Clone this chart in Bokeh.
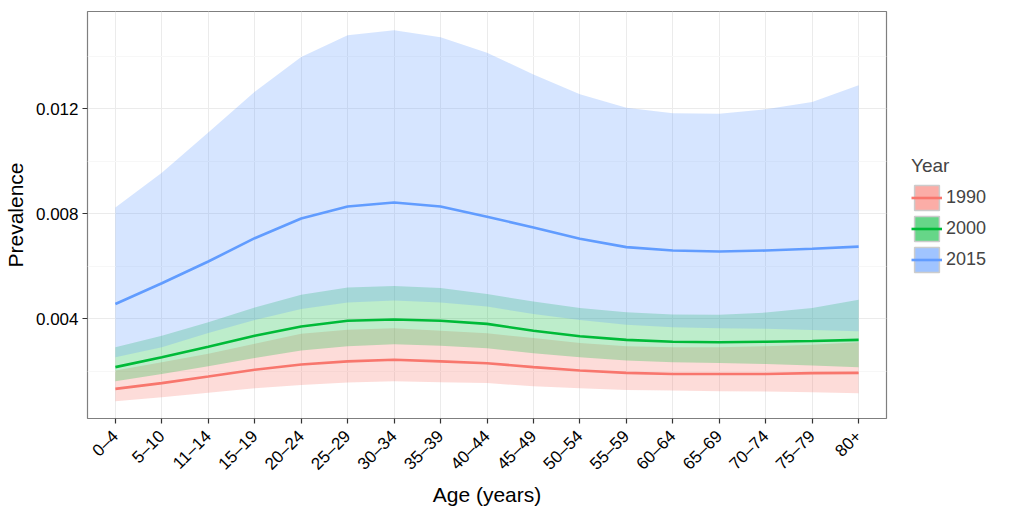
from bokeh.plotting import figure
from bokeh.models import (FactorRange, Range1d, FixedTicker, Legend, LegendItem,
                          ColumnDataSource)
from bokeh.embed import file_html
from bokeh.resources import INLINE
import math

ages = ["0–4", "5–10", "11–14", "15–19", "20–24", "25–29", "30–34", "35–39",
        "40–44", "45–49", "50–54", "55–59", "60–64", "65–69", "70–74", "75–79", "80+"]

# 1990
y1990_mean = [0.00132, 0.00154, 0.00179, 0.00205, 0.00225, 0.00237, 0.00243, 0.00237,
              0.00230, 0.00215, 0.00202, 0.00193, 0.00189, 0.00189, 0.00189, 0.00192, 0.00193]
y1990_low = [0.00085, 0.00100, 0.00117, 0.00134, 0.00147, 0.00156, 0.00161, 0.00157,
             0.00154, 0.00142, 0.00134, 0.00128, 0.00126, 0.00123, 0.00122, 0.00119, 0.00115]
y1990_high = [0.00202, 0.00234, 0.00266, 0.00304, 0.00342, 0.00358, 0.00363, 0.00354,
              0.00344, 0.00326, 0.00307, 0.00295, 0.00291, 0.00291, 0.00295, 0.00300, 0.00310]
# 2000
y2000_mean = [0.00215, 0.00253, 0.00293, 0.00335, 0.00370, 0.00392, 0.00397, 0.00392,
              0.00380, 0.00354, 0.00333, 0.00319, 0.00312, 0.00310, 0.00312, 0.00315, 0.00319]
y2000_low = [0.00161, 0.00189, 0.00218, 0.00250, 0.00278, 0.00295, 0.00302, 0.00297,
             0.00287, 0.00268, 0.00253, 0.00240, 0.00234, 0.00231, 0.00227, 0.00221, 0.00215]
y2000_high = [0.00291, 0.00335, 0.00386, 0.00443, 0.00491, 0.00519, 0.00525, 0.00517,
              0.00494, 0.00465, 0.00441, 0.00424, 0.00416, 0.00415, 0.00423, 0.00441, 0.00472]
# 2015
y2015_mean = [0.00456, 0.00535, 0.00618, 0.00707, 0.00782, 0.00828, 0.00843, 0.00828,
              0.00789, 0.00748, 0.00705, 0.00673, 0.00660, 0.00656, 0.00660, 0.00667, 0.00675]
y2015_low = [0.00253, 0.00291, 0.00345, 0.00395, 0.00437, 0.00462, 0.00469, 0.00462,
             0.00446, 0.00418, 0.00395, 0.00377, 0.00367, 0.00363, 0.00361, 0.00357, 0.00352]
y2015_high = [0.00824, 0.00957, 0.01110, 0.01266, 0.01398, 0.01481, 0.01500, 0.01474,
              0.01415, 0.01332, 0.01256, 0.01205, 0.01184, 0.01182, 0.01199, 0.01227, 0.01291]

years = ["1990", "2000", "2015"]
colors = ["#F8766D", "#00BA38", "#619CFF"]
series = [(y1990_low, y1990_mean, y1990_high),
          (y2000_low, y2000_mean, y2000_high),
          (y2015_low, y2015_mean, y2015_high)]

FONT = "Liberation Sans"

p = figure(width=1008, height=496, frame_width=799, frame_height=407,
           output_backend="svg", toolbar_location=None,
           x_range=FactorRange(factors=ages, range_padding=0.1, range_padding_units="absolute"),
           y_range=Range1d(0.00019, 0.01572),
           min_border_left=85, min_border_top=11, min_border_bottom=80, min_border_right=0)

p.background_fill_color = "white"
p.border_fill_color = "white"
p.outline_line_color = "#7F7F7F"
p.outline_line_width = 1.2

# grid
p.xgrid.grid_line_color = "#EBEBEB"
p.ygrid.grid_line_color = "#EBEBEB"
p.ygrid.minor_grid_line_color = "#F7F7F7"
p.yaxis.ticker = FixedTicker(ticks=[0.004, 0.008, 0.012],
                             minor_ticks=[0.002, 0.006, 0.010, 0.014])
p.yaxis.major_label_overrides = {0.004: "0.004", 0.008: "0.008", 0.012: "0.012"}

for ax in (p.xaxis, p.yaxis):
    ax.axis_line_color = None
    ax.major_tick_line_color = "#333333"
    ax.major_tick_line_width = 1.2
    ax.major_tick_out = 5
    ax.major_tick_in = 0
    ax.minor_tick_line_color = None
    ax.major_label_text_font = FONT
    ax.major_label_text_font_size = "17px"
    ax.major_label_text_color = "black"
    ax.axis_label_text_font = FONT
    ax.axis_label_text_font_size = "21px"
    ax.axis_label_text_font_style = "normal"
    ax.axis_label_text_color = "black"

p.xaxis.axis_label = "Age (years)"
p.yaxis.axis_label = "Prevalence"
p.xaxis.major_label_orientation = math.pi / 4
p.xaxis.major_label_standoff = 10
p.yaxis.major_label_standoff = 4
p.xaxis.axis_label_standoff = 0
p.yaxis.axis_label_standoff = 6

# ribbons
for (lo, mid, hi), c in zip(series, colors):
    src = ColumnDataSource(dict(x=ages, lo=lo, hi=hi))
    p.varea(x="x", y1="lo", y2="hi", source=src, fill_color=c, fill_alpha=0.26)

items = []
for (lo, mid, hi), c, yr in zip(series, colors, years):
    src = ColumnDataSource(dict(x=ages, y=mid))
    ln = p.line(x="x", y="y", source=src, line_color=c, line_width=2.6)
    # zero-size rects: invisible on the plot, used only to draw the legend key box
    key = p.rect(x="x", y="y", width=0, height=0, source=src,
                 fill_color=c, fill_alpha=0.6, line_color="#CCCCCC", line_width=1.5)
    items.append(LegendItem(label=yr, renderers=[key, ln]))

legend = Legend(items=items, title="Year", location="left",
                glyph_width=31, glyph_height=31, label_height=31,
                label_standoff=4, spacing=0, padding=5, margin=25,
                border_line_color=None, background_fill_alpha=0,
                title_text_font=FONT, title_text_font_size="19px",
                title_text_font_style="normal", title_standoff=5,
                label_text_font=FONT, label_text_font_size="18px")
p.add_layout(legend, "right")

open("out.html", "w").write(file_html(p, INLINE))
